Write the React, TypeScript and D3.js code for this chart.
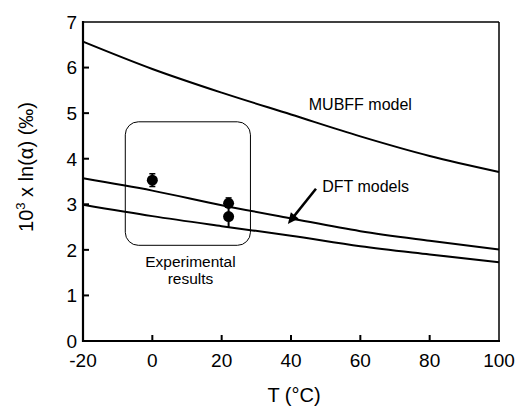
import React from "react";
import * as d3 from "d3";

// temperatures (°C) where the model curves were read
const temps = [-20, 0, 20, 40, 60, 80, 100];
const mubffModel = [6.57, 5.97, 5.45, 4.97, 4.49, 4.06, 3.71];
const dftUpper = [3.57, 3.3, 2.98, 2.69, 2.41, 2.2, 2.01];
const dftLower = [2.99, 2.74, 2.52, 2.31, 2.08, 1.9, 1.73];

// experimental points
const expT = [0, 22, 22];
const expVal = [3.53, 3.02, 2.73];
const expErr = [0.14, 0.12, 0.24];

const xTicks = [-20, 0, 20, 40, 60, 80, 100];
const yTicks = [0, 1, 2, 3, 4, 5, 6, 7];

const W = 518, H = 406;
const margin = { top: 22, right: 19, bottom: 65, left: 83 };
const FONT = "'Liberation Sans', Arial, sans-serif";

export default function App() {
  const x = d3.scaleLinear().domain([-20, 100]).range([margin.left, W - margin.right]);
  const y = d3.scaleLinear().domain([0, 7]).range([H - margin.bottom, margin.top]);

  const line = d3.line<number>()
    .x((d, i) => x(temps[i]))
    .y(d => y(d))
    .curve(d3.curveMonotoneX);

  const curves = [mubffModel, dftUpper, dftLower];

  // box around experimental results (data coords)
  const bx0 = x(-7.8), bx1 = x(28.3), by0 = y(4.81), by1 = y(2.1);

  // arrow from label to DFT lines
  const ax0 = x(47.2), ay0 = y(3.34), ax1 = x(39.1), ay1 = y(2.57);
  const ang = Math.atan2(ay1 - ay0, ax1 - ax0);
  const hl = 11, hw = 5;
  const head = [
    [ax1, ay1],
    [ax1 - hl * Math.cos(ang) + hw * Math.sin(ang), ay1 - hl * Math.sin(ang) - hw * Math.cos(ang)],
    [ax1 - hl * Math.cos(ang) - hw * Math.sin(ang), ay1 - hl * Math.sin(ang) + hw * Math.cos(ang)],
  ];

  const x0 = margin.left, x1 = W - margin.right, y0 = H - margin.bottom, y1 = margin.top;

  return (
    <svg width={W} height={H} style={{ position: "absolute", left: 0, top: 0, background: "#fff" }}
      fontFamily={FONT}>
      {/* curves */}
      {curves.map((c, i) => (
        <path key={i} d={line(c) || ""} fill="none" stroke="#000" strokeWidth={2} />
      ))}

      {/* experimental box */}
      <rect x={bx0} y={by0} width={bx1 - bx0} height={by1 - by0} rx={13} ry={13}
        fill="none" stroke="#000" strokeWidth={1} />

      {/* error bars + points */}
      {expT.map((t, i) => (
        <g key={i}>
          <line x1={x(t)} x2={x(t)} y1={y(expVal[i] + expErr[i])} y2={y(expVal[i] - expErr[i])}
            stroke="#000" strokeWidth={2} />
          {i === 0 && <line x1={x(t) - 3} x2={x(t) + 3} y1={y(expVal[i] + expErr[i])} y2={y(expVal[i] + expErr[i])} stroke="#000" strokeWidth={1.5} />}
          {i === 0 && <line x1={x(t) - 3} x2={x(t) + 3} y1={y(expVal[i] - expErr[i])} y2={y(expVal[i] - expErr[i])} stroke="#000" strokeWidth={1.5} />}
          {i === 1 && <line x1={x(t) - 3} x2={x(t) + 3} y1={y(expVal[i] + expErr[i])} y2={y(expVal[i] + expErr[i])} stroke="#000" strokeWidth={1.5} />}
          <circle cx={x(t)} cy={y(expVal[i])} r={5.5} fill="#000" />
        </g>
      ))}

      {/* arrow */}
      <line x1={ax0} y1={ay0} x2={ax1 - 8 * Math.cos(ang)} y2={ay1 - 8 * Math.sin(ang)} stroke="#000" strokeWidth={2.5} />
      <polygon points={head.map(p => p.join(",")).join(" ")} fill="#000" />

      {/* annotations */}
      <text x={x(60)} y={y(5.07)} fontSize={16} textAnchor="middle">MUBFF model</text>
      <text x={x(49)} y={y(3.27)} fontSize={16}>DFT models</text>
      <text x={x(11)} y={y(1.62)} fontSize={15.5} textAnchor="middle">Experimental</text>
      <text x={x(11)} y={y(1.26)} fontSize={15.5} textAnchor="middle">results</text>

      {/* frame */}
      <line x1={x0} x2={x1} y1={y1} y2={y1} stroke="#000" strokeWidth={1.5} />
      <line x1={x1} x2={x1} y1={y1} y2={y0} stroke="#000" strokeWidth={1.5} />
      <line x1={x0} x2={x0} y1={y1 - 1} y2={y0 + 1} stroke="#000" strokeWidth={2.2} />
      <line x1={x0 - 1} x2={x1 + 1} y1={y0} y2={y0} stroke="#000" strokeWidth={2.2} />

      {/* y ticks */}
      {yTicks.map(v => (
        <g key={v}>
          {v !== 0 && v !== 7 && <line x1={x0} x2={x0 + 6} y1={y(v)} y2={y(v)} stroke="#000" strokeWidth={2} />}
          <text x={x0 - 6} y={y(v)} dy="0.36em" textAnchor="end" fontSize={19}>{v}</text>
        </g>
      ))}

      {/* x ticks */}
      {xTicks.map(t => (
        <g key={t}>
          {t !== -20 && t !== 100 && <line x1={x(t)} x2={x(t)} y1={y0} y2={y0 - 6} stroke="#000" strokeWidth={2} />}
          <text x={x(t)} y={y0 + 26} textAnchor="middle" fontSize={19}>{t}</text>
        </g>
      ))}

      {/* axis titles */}
      <text x={294} y={402} textAnchor="middle" fontSize={20}>T (°C)</text>
      <text transform="translate(33,167) rotate(-90)" textAnchor="middle" fontSize={20}>
        10<tspan fontSize={13} dy={-8}>3</tspan><tspan dy={8}> x ln(α) (‰)</tspan>
      </text>
    </svg>
  );
}
